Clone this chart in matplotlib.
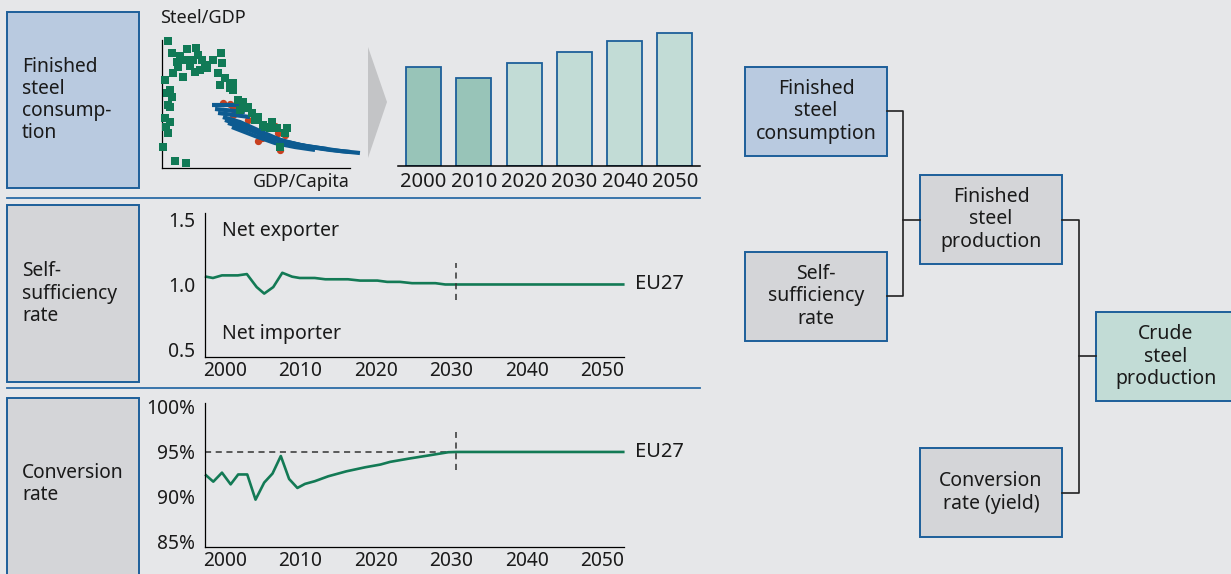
"""
Steel demand model infographic: finished steel consumption -> self-sufficiency
-> conversion rate -> crude steel production.
"""

import matplotlib
matplotlib.use("Agg")
import matplotlib.pyplot as plt
from matplotlib.patches import Rectangle, Polygon

W, H = 1231, 574
BG = "#e6e7e9"
BORDER = "#1d5f9a"
BLUE_FILL = "#b9cae0"
GRAY_FILL = "#d4d5d8"
TEAL_FILL = "#c2dcd6"
GREEN = "#137a55"
TXT = "#1a1a1a"

plt.rcParams["font.family"] = ["Noto Sans", "DejaVu Sans"]

# --- scatter: steel intensity vs GDP per capita (index units, 0-100) ---
green_x = [3.2, 5.3, 13.3, 18.1, 19.1, 31.4, 8.0, 12.2, 16.5, 21.3, 27.1, 31.9,
           5.9, 11.2, 20.2, 23.9, 29.8, 36.2, 37.8, 30.9, 36.2, 37.8, 1.6, 4.3,
           2.7, 5.3, 3.2, 4.3, 1.6, 4.3, 2.1, 3.2, 0.5, 6.9, 12.8, 40.4, 43.1,
           45.2, 41.5, 45.7, 49.5, 53.7, 57.4, 61.2, 66.5, 65.4, 62.8, 8.5, 14.9,
           22.9, 9.6, 17.6, 33.5, 47.9, 51.1, 58.5, 54.8]
green_y = [99.2, 89.8, 93.0, 93.8, 88.3, 89.8, 82.8, 84.4, 84.4, 84.4, 84.4, 82.0,
           74.2, 71.1, 76.6, 78.1, 74.2, 66.4, 66.4, 64.8, 62.5, 60.9, 68.8, 60.9,
           58.6, 55.5, 49.2, 47.7, 39.1, 35.9, 32.0, 27.3, 16.4, 5.5, 3.9, 53.1, 51.6,
           46.9, 45.3, 47.7, 37.5, 33.6, 31.3, 31.3, 31.3, 27.3, 16.4, 78.9, 79.7,
           80.5, 87.5, 75.0, 70.3, 43.0, 39.8, 35.9, 32.0]
red_x = [32.4, 37.8, 37.8, 45.7, 51.1, 61.7, 65.4, 62.8, 60.1, 38.8, 53.2, 36.2]
red_y = [50.8, 47.7, 41.4, 37.5, 21.1, 27.3, 25.8, 14.1, 32.8, 35.2, 23.4, 50.0]
blue_curves_x = [
    [26.6, 41.5],
    [28.2, 44.1],
    [29.8, 46.8],
    [32.4, 41.5, 52.1, 62.8, 73.4, 84.0, 94.7, 105.3],
    [35.1, 46.8, 57.4, 68.1, 78.7, 89.4, 100.0],
    [37.2, 49.5, 60.1, 70.7, 81.4],
    [33.5, 44.0, 55.0, 66.0, 77.0, 88.0],
]
blue_curves_y = [
    [49.2, 49.2],
    [46.1, 43.8],
    [43.0, 39.8],
    [39.8, 35.9, 28.9, 21.9, 18.0, 15.6, 13.3, 11.7],
    [35.2, 29.7, 23.4, 19.5, 16.4, 14.1, 12.5],
    [32.0, 25.0, 19.5, 16.4, 14.1],
    [37.5, 32.5, 26.0, 20.5, 17.0, 14.8],
]

# --- finished steel consumption by decade (index) ---
bar_years = ["2000", "2010", "2020", "2030", "2040", "2050"]
bar_values = [99, 88, 103, 114, 125, 133]
bar_is_history = [True, True, False, False, False, False]

# --- self-sufficiency rate, EU27 ---
self_years = [1997.5, 1998.4, 1999.6, 2001.7, 2002.9, 2004.2, 2005.2, 2006.4,
              2007.6, 2008.9, 2009.9, 2011.9, 2013.3, 2016.3, 2017.9, 2020.2,
              2021.5, 2023.2, 2024.8, 2027.9, 2029.2, 2030.6, 2052.8]
self_values = [1.06, 1.05, 1.07, 1.07, 1.08, 0.98, 0.93, 0.98,
               1.09, 1.06, 1.05, 1.05, 1.04, 1.04, 1.03, 1.03,
               1.02, 1.02, 1.01, 1.01, 1.00, 1.00, 1.00]

# --- conversion rate (yield), EU27, % ---
conv_years = [1997.5, 1998.45, 1999.6, 2000.75, 2001.75, 2002.95, 2004.05,
              2005.2, 2006.3, 2007.4, 2008.5, 2009.6, 2010.6, 2011.9, 2013.7,
              2016.1, 2018.6, 2020.6, 2021.9, 2024.3, 2026.9, 2029.6, 2030.7, 2052.8]
conv_values = [92.4, 91.7, 92.7, 91.4, 92.5, 92.5, 89.7, 91.6, 92.6, 94.55,
               92.0, 91.0, 91.45, 91.75, 92.3, 92.85, 93.3, 93.6, 93.9, 94.25,
               94.6, 94.97, 95.0, 95.0]

line_ticks = [2000, 2010, 2020, 2030, 2040, 2050]
FORECAST_START = 2030.6
TARGET_YIELD = 95


def px_axes(fig, x0, y0, x1, y1):
    """Axes placed by pixel box (top-left origin)."""
    return fig.add_axes([x0 / W, 1 - y1 / H, (x1 - x0) / W, (y1 - y0) / H])


def box(ax, x0, y0, x1, y1, fill, text=None, ha="center", tx=None, size=14):
    ax.add_patch(Rectangle((x0, y0), x1 - x0, y1 - y0, facecolor=fill,
                           edgecolor=BORDER, linewidth=1.4))
    if text:
        if tx is None:
            tx = (x0 + x1) / 2
        ax.text(tx, (y0 + y1) / 2, text, ha=ha, va="center", fontsize=size,
                color=TXT, linespacing=1.15, multialignment=ha)


def style_line_axes(ax):
    ax.set_facecolor("none")
    for s in ["top", "right"]:
        ax.spines[s].set_visible(False)
    for s in ["left", "bottom"]:
        ax.spines[s].set_color("black")
        ax.spines[s].set_linewidth(0.9)
    ax.tick_params(length=0, labelsize=13.8, colors=TXT)
    ax.tick_params(axis="y", pad=7)
    ax.tick_params(axis="x", pad=3)
    ax.set_xticks(line_ticks)
    ax.set_xlim(1997.35, 2052.9)


fig = plt.figure(figsize=(W / 100, H / 100), dpi=100, facecolor=BG)

# overlay in pixel coordinates for boxes, connectors and labels
ov = fig.add_axes([0, 0, 1, 1])
ov.set_xlim(0, W)
ov.set_ylim(H, 0)
ov.axis("off")
ov.set_facecolor(BG)

# left row headers
box(ov, 7, 12, 139, 188, BLUE_FILL, "Finished\nsteel\nconsump-\ntion",
    ha="left", tx=22, size=13.8)
box(ov, 7, 205, 139, 382, GRAY_FILL, "Self-\nsufficiency\nrate",
    ha="left", tx=22, size=13.8)
box(ov, 7, 398, 139, 590, GRAY_FILL, None)
ov.text(22, 484, "Conversion\nrate", ha="left", va="center", fontsize=13.8,
        color=TXT, linespacing=1.15)

ov.plot([7, 700], [197.5, 197.5], color="#2b6ca6", lw=1.3)
ov.plot([7, 700], [388, 388], color="#2b6ca6", lw=1.3)

# chevron between scatter and bars
ov.add_patch(Polygon([(368, 47), (387, 102), (368, 158)], closed=True,
                     facecolor="#c3c4c6", edgecolor="none"))

# scatter labels
ov.text(160, 18, "Steel/GDP", ha="left", va="center", fontsize=13, color=TXT)
ov.text(350, 182, "GDP/Capita", ha="right", va="center", fontsize=12.8, color=TXT)

# flow chart on the right
box(ov, 745, 67, 887, 156, BLUE_FILL, "Finished\nsteel\nconsumption")
box(ov, 745, 252, 887, 341, GRAY_FILL, "Self-\nsufficiency\nrate")
box(ov, 920, 175, 1062, 264, GRAY_FILL, "Finished\nsteel\nproduction")
box(ov, 920, 448, 1062, 537, GRAY_FILL, "Conversion\nrate (yield)")
box(ov, 1096, 312, 1240, 401, TEAL_FILL, "Crude\nsteel\nproduction", tx=1166)

conn = dict(color="#222222", lw=1.2)
ov.plot([887, 903, 903, 887], [111, 111, 296, 296], **conn)
ov.plot([903, 920], [220, 220], **conn)
ov.plot([1062, 1079, 1079, 1062], [220, 220, 493, 493], **conn)
ov.plot([1079, 1096], [356, 356], **conn)

# --- scatter ---
sc = px_axes(fig, 162, 40, 350, 168)
sc.set_facecolor("none")
sc.set_xlim(0, 100)
sc.set_ylim(0, 100)
for s in ["top", "right"]:
    sc.spines[s].set_visible(False)
sc.spines["left"].set_linewidth(0.9)
sc.spines["bottom"].set_linewidth(0.9)
sc.set_xticks([])
sc.set_yticks([])
sc.scatter(red_x, red_y, s=18, color="#c8401f", zorder=2, clip_on=False)
for bx, by in zip(blue_curves_x, blue_curves_y):
    sc.plot(bx, by, color="#0d5b91", lw=3.0, solid_capstyle="butt",
            zorder=3, clip_on=False)
sc.scatter(green_x, green_y, s=36, marker="s", color="#117a56", zorder=4,
           clip_on=False, linewidths=0)

# --- bars ---
bx_ax = px_axes(fig, 398, 20, 700, 166)
bx_ax.set_facecolor("none")
bx_ax.set_ylim(0, 146)
bx_ax.set_xlim(-0.51, 5.5)
colors = ["#98c4b8" if h else "#c2dcd6" for h in bar_is_history]
bx_ax.bar(range(len(bar_years)), bar_values, width=0.7, color=colors,
          edgecolor=BORDER, linewidth=1.3)
for s in ["top", "right", "left"]:
    bx_ax.spines[s].set_visible(False)
bx_ax.spines["bottom"].set_linewidth(1.1)
bx_ax.set_yticks([])
bx_ax.set_xticks(range(len(bar_years)))
bx_ax.set_xticklabels(bar_years)
bx_ax.tick_params(length=0, labelsize=14.5, pad=4, colors=TXT)

# --- self-sufficiency ---
ss = px_axes(fig, 205, 213, 624, 357)
style_line_axes(ss)
ss.set_ylim(0.442, 1.55)
ss.set_yticks([0.5, 1.0, 1.5])
ss.set_yticklabels(["0.5", "1.0", "1.5"])
ss.plot(self_years, self_values, color=GREEN, lw=1.9, clip_on=False)
ss.plot([FORECAST_START, FORECAST_START], [0.88, 1.165], color="#333333",
        lw=1.1, ls=(0, (4, 3)))
ss.text(1999.6, 1.41, "Net exporter", fontsize=14, color=TXT, va="center")
ss.text(1999.6, 0.62, "Net importer", fontsize=14, color=TXT, va="center")
ss.text(2054.3, 1.0, "EU27", fontsize=14.5, color=TXT, va="center")

# --- conversion rate ---
cr = px_axes(fig, 205, 403, 624, 547)
style_line_axes(cr)
cr.set_ylim(84.44, 100.44)
cr.set_yticks([85, 90, 95, 100])
cr.set_yticklabels(["85%", "90%", "95%", "100%"])
cr.plot([1997.35, FORECAST_START], [TARGET_YIELD, TARGET_YIELD], color="#333333",
        lw=1.1, ls=(0, (4, 3)))
cr.plot(conv_years, conv_values, color=GREEN, lw=1.9, clip_on=False)
cr.plot([FORECAST_START, FORECAST_START], [93.0, 97.2], color="#333333",
        lw=1.1, ls=(0, (4, 3)))
cr.text(2054.3, 95, "EU27", fontsize=14.5, color=TXT, va="center")

fig.savefig("out.png", dpi=100, facecolor=BG)
